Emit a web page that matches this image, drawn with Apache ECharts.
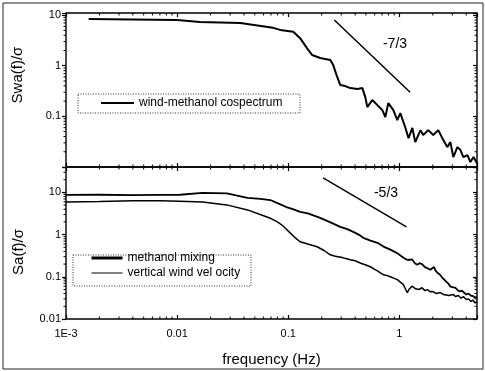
<!DOCTYPE html>
<html><head><meta charset="utf-8">
<script src="https://cdn.jsdelivr.net/npm/echarts@6/dist/echarts.min.js"></script>
<style>html,body{margin:0;padding:0;background:#fff}#c{width:485px;height:371px}</style>
</head><body><div id="c"></div>
<script>
// ---- data ----
const xTickValues = [0.001, 0.01, 0.1, 1];
const xTickLabels = ['1E-3', '0.01', '0.1', '1'];
const yTickValues = [0.01, 0.1, 1, 10];
const yTickLabels = ['0.01', '0.1', '1', '10'];

const cospecFreq = [0.0016, 0.01, 0.016, 0.037, 0.073, 0.0847, 0.111, 0.128, 0.148, 0.164, 0.194, 0.239, 0.254, 0.276, 0.294, 0.326, 0.362, 0.419, 0.465, 0.494, 0.515, 0.571, 0.634, 0.703, 0.748, 0.796, 0.883, 0.959, 1.02, 1.13, 1.21, 1.31, 1.39, 1.55, 1.64, 1.82, 2.02, 2.24, 2.49, 2.7, 2.88, 3.06, 3.33, 3.55, 3.77, 4.1, 4.36, 4.65, 5.0];
const cospecVal  = [8.4, 8.0, 7.3, 7.0, 5.6, 5.1, 4.7, 3.5, 2.2, 1.63, 1.42, 1.3, 1.03, 0.6, 0.415, 0.396, 0.362, 0.346, 0.362, 0.24, 0.152, 0.21, 0.167, 0.133, 0.097, 0.183, 0.133, 0.084, 0.116, 0.061, 0.037, 0.059, 0.031, 0.0535, 0.043, 0.0535, 0.043, 0.0535, 0.034, 0.0247, 0.031, 0.0157, 0.0247, 0.0216, 0.0157, 0.0172, 0.0125, 0.0157, 0.0119];

const mixFreq = [0.001, 0.002, 0.004, 0.007, 0.0106, 0.017, 0.028, 0.043, 0.056, 0.069, 0.085, 0.098, 0.11, 0.128, 0.15, 0.194, 0.24, 0.294, 0.34, 0.385, 0.43, 0.474, 0.55, 0.634, 0.72, 0.83, 0.96, 1.09, 1.15, 1.2, 1.3, 1.38, 1.45, 1.52, 1.6, 1.7, 1.79, 1.9, 1.97, 2.05, 2.12, 2.2, 2.3, 2.4, 2.5, 2.6, 2.75, 2.88, 3.0, 3.2, 3.35, 3.5, 3.65, 3.77, 4.0, 4.2, 4.4, 4.6, 4.8, 5.0];
const mixVal  = [8.7, 8.8, 8.6, 8.7, 8.8, 9.8, 9.5, 7.4, 7.0, 6.6, 5.2, 4.4, 4.0, 3.46, 3.2, 2.5, 1.95, 1.53, 1.35, 1.16, 1.0, 0.84, 0.72, 0.64, 0.52, 0.44, 0.36, 0.283, 0.26, 0.25, 0.26, 0.21, 0.194, 0.21, 0.2, 0.17, 0.16, 0.147, 0.15, 0.17, 0.14, 0.125, 0.115, 0.1, 0.095, 0.08, 0.07, 0.0585, 0.06, 0.055, 0.048, 0.045, 0.047, 0.0423, 0.038, 0.04, 0.036, 0.035, 0.032, 0.034];

const windFreq = [0.001, 0.002, 0.004, 0.007, 0.0106, 0.017, 0.028, 0.043, 0.06, 0.07, 0.08, 0.09, 0.104, 0.115, 0.128, 0.155, 0.182, 0.21, 0.239, 0.26, 0.28, 0.3, 0.33, 0.362, 0.4, 0.45, 0.5, 0.548, 0.6, 0.63, 0.67, 0.718, 0.77, 0.83, 0.9, 0.959, 1.02, 1.09, 1.14, 1.18, 1.22, 1.25, 1.3, 1.34, 1.4, 1.5, 1.6, 1.7, 1.79, 1.9, 2.0, 2.15, 2.34, 2.5, 2.6, 2.8, 3.06, 3.2, 3.4, 3.6, 3.77, 4.0, 4.2, 4.4, 4.6, 4.8, 5.0];
const windVal  = [5.96, 6.1, 6.3, 6.3, 6.2, 5.96, 5.06, 3.85, 2.8, 2.4, 2.0, 1.6, 1.10, 0.85, 0.676, 0.58, 0.515, 0.42, 0.333, 0.31, 0.3, 0.29, 0.27, 0.254, 0.24, 0.21, 0.19, 0.173, 0.15, 0.14, 0.125, 0.112, 0.108, 0.1, 0.092, 0.0857, 0.075, 0.065, 0.05, 0.0423, 0.05, 0.055, 0.06, 0.0585, 0.052, 0.05, 0.055, 0.047, 0.0497, 0.044, 0.045, 0.04, 0.0423, 0.038, 0.04, 0.036, 0.0379, 0.034, 0.036, 0.031, 0.034, 0.029, 0.03, 0.026, 0.028, 0.024, 0.0259];

const slope73 = [[0.26, 8.0], [1.25, 0.3]];
const slope53 = [[0.206, 22], [1.16, 1.53]];

const seriesNames = ['wind-methanol cospectrum', 'methanol mixing', 'vertical wind vel ocity'];

// ---- helpers ----
const zip = (a, b) => a.map((v, i) => [v, b[i]]);
const near = (v, t) => Math.abs(v / t - 1) < 1e-6;
const xFmt = v => { const i = xTickValues.findIndex(t => near(v, t)); return i < 0 ? '' : xTickLabels[i]; };
const yFmtTop = v => { const i = yTickValues.findIndex(t => near(v, t)); return (i < 1) ? '' : yTickLabels[i]; };
const yFmtBot = v => { const i = yTickValues.findIndex(t => near(v, t)); return i < 0 ? '' : yTickLabels[i]; };
const FONT = "'Liberation Sans', Arial, sans-serif";

function minorList(lo, hi) {
  const out = [];
  for (let e = -4; e <= 2; e++) for (let m = 2; m <= 9; m++) {
    const v = m * Math.pow(10, e);
    if (v > lo * 1.0001 && v < hi * 0.9999) out.push(v);
  }
  return out;
}
const XMIN = 0.001, XMAX = 5;
const topY = [0.01, 11], botY = [0.01, 40];

function xMinorSeries(xi, yi) {
  return {
    type: 'custom', xAxisIndex: xi, yAxisIndex: yi, silent: true, z: 5,
    data: minorList(XMIN, XMAX).map(v => [v, 1]),
    renderItem: (p, api) => {
      const cs = p.coordSys; const x = api.coord([api.value(0), 1])[0];
      const st = { stroke: '#000', lineWidth: 1 };
      return { type: 'group', children: [
        { type: 'line', shape: { x1: x, y1: cs.y + cs.height, x2: x, y2: cs.y + cs.height - 2.5 }, style: st },
        { type: 'line', shape: { x1: x, y1: cs.y, x2: x, y2: cs.y + 2.5 }, style: st }
      ]};
    }
  };
}
function yMinorSeries(xi, yi, range) {
  return {
    type: 'custom', xAxisIndex: xi, yAxisIndex: yi, silent: true, z: 5,
    data: minorList(range[0], range[1]).map(v => [0.01, v]),
    renderItem: (p, api) => {
      const cs = p.coordSys; const y = api.coord([0.01, api.value(1)])[1];
      const st = { stroke: '#000', lineWidth: 1 };
      return { type: 'group', children: [
        { type: 'line', shape: { x1: cs.x - 2.5, y1: y, x2: cs.x, y2: y }, style: st },
        { type: 'line', shape: { x1: cs.x + cs.width, y1: y, x2: cs.x + cs.width - 2.5, y2: y }, style: st }
      ]};
    }
  };
}

const xBase = (gi, pos, labels) => ({
  type: 'log', logBase: 10, gridIndex: gi, position: pos, min: XMIN, max: XMAX,
  axisLine: { show: false }, splitLine: { show: false },
  axisTick: { show: true, inside: true, length: 4, lineStyle: { color: '#000', width: 1.2 } },
  axisLabel: { show: labels, formatter: xFmt, color: '#000', fontSize: 11, fontFamily: FONT, margin: 9, showMinLabel: true, showMaxLabel: true }
});
const yBase = (gi, pos, range, labels, fmt) => ({
  type: 'log', logBase: 10, gridIndex: gi, position: pos, min: range[0], max: range[1],
  axisLine: { show: false }, splitLine: { show: false },
  axisTick: { show: true, inside: pos === 'right', length: 4, lineStyle: { color: '#000', width: 1.2 } },
  axisLabel: { show: labels, formatter: fmt, color: '#000', fontSize: 11, fontFamily: FONT, margin: 5, showMinLabel: true, showMaxLabel: true }
});

const chart = echarts.init(document.getElementById('c'), null, { renderer: 'canvas' });
chart.setOption({
  animation: false,
  backgroundColor: '#fff',
  textStyle: { fontFamily: FONT },
  grid: [
    { left: 66, top: 13, width: 411, height: 154, show: true, borderColor: '#000', borderWidth: 1.4, backgroundColor: 'transparent' },
    { left: 66, top: 167, width: 411, height: 152, show: true, borderColor: '#000', borderWidth: 1.4, backgroundColor: 'transparent' }
  ],
  xAxis: [
    xBase(0, 'bottom', false), xBase(0, 'top', false),
    Object.assign(xBase(1, 'bottom', true), { name: 'frequency (Hz)', nameLocation: 'middle', nameGap: 33, nameTextStyle: { fontSize: 15, color: '#000', fontFamily: FONT } }),
    xBase(1, 'top', false)
  ],
  yAxis: [
    yBase(0, 'left', topY, true, yFmtTop), yBase(0, 'right', topY, false, yFmtTop),
    yBase(1, 'left', botY, true, yFmtBot), yBase(1, 'right', botY, false, yFmtBot)
  ],
  legend: [
    { data: [{ name: seriesNames[0], lineStyle: { width: 2 } }], left: 100, top: 97, padding: 0, itemWidth: 33, itemHeight: 14, itemGap: 4,
      itemStyle: { opacity: 0 },
      textStyle: { fontSize: 12, color: '#000', fontFamily: FONT }, selectedMode: false },
    { data: [{ name: seriesNames[1], lineStyle: { width: 3 } }, { name: seriesNames[2], lineStyle: { width: 1 } }],
      orient: 'vertical', left: 90, top: 252, padding: 0, itemWidth: 31, itemHeight: 14, itemGap: 3,
      itemStyle: { opacity: 0 },
      textStyle: { fontSize: 12, color: '#000', fontFamily: FONT }, selectedMode: false }
  ],
  graphic: [
    { type: 'rect', shape: { x: 3, y: 3, width: 480, height: 366 }, style: { fill: 'none', stroke: '#222', lineWidth: 1 }, silent: true },
    { type: 'rect', shape: { x: 78, y: 94, width: 222, height: 19 }, style: { fill: 'none', stroke: '#333', lineWidth: 1, lineDash: [1, 1.5] }, silent: true },
    { type: 'rect', shape: { x: 73, y: 255, width: 178, height: 31 }, style: { fill: 'none', stroke: '#333', lineWidth: 1, lineDash: [1, 1.5] }, silent: true },
    { type: 'text', x: 18, y: 75, rotation: Math.PI / 2, style: { text: 'Swa(f)/σ', font: "15px 'Liberation Sans', Arial", fill: '#000', align: 'center', verticalAlign: 'middle' }, silent: true },
    { type: 'text', x: 19, y: 252, rotation: Math.PI / 2, style: { text: 'Sa(f)/σ', font: "15px 'Liberation Sans', Arial", fill: '#000', align: 'center', verticalAlign: 'middle' }, silent: true },
    { type: 'text', x: 395, y: 44, style: { text: '-7/3', font: "14px 'Liberation Sans', Arial", fill: '#000', align: 'center', verticalAlign: 'middle' }, silent: true },
    { type: 'text', x: 386, y: 193, style: { text: '-5/3', font: "14px 'Liberation Sans', Arial", fill: '#000', align: 'center', verticalAlign: 'middle' }, silent: true }
  ],
  series: [
    { name: seriesNames[0], type: 'line', xAxisIndex: 0, yAxisIndex: 0, data: zip(cospecFreq, cospecVal), symbol: 'none', lineStyle: { color: '#000', width: 2 }, itemStyle: { color: '#000' }, z: 3 },
    { name: seriesNames[1], type: 'line', xAxisIndex: 2, yAxisIndex: 2, data: zip(mixFreq, mixVal), symbol: 'none', lineStyle: { color: '#000', width: 1.8 }, itemStyle: { color: '#000' }, z: 3 },
    { name: seriesNames[2], type: 'line', xAxisIndex: 2, yAxisIndex: 2, data: zip(windFreq, windVal), symbol: 'none', lineStyle: { color: '#000', width: 1.5 }, itemStyle: { color: '#000' }, z: 3 },
    { name: 'slope-7/3', type: 'line', xAxisIndex: 0, yAxisIndex: 0, data: slope73, symbol: 'none', lineStyle: { color: '#000', width: 1.5 }, z: 3 },
    { name: 'slope-5/3', type: 'line', xAxisIndex: 2, yAxisIndex: 2, data: slope53, symbol: 'none', lineStyle: { color: '#000', width: 1.5 }, z: 3 },
    xMinorSeries(0, 0), xMinorSeries(2, 2),
    yMinorSeries(0, 0, topY), yMinorSeries(2, 2, botY)
  ]
});
</script></body></html>
